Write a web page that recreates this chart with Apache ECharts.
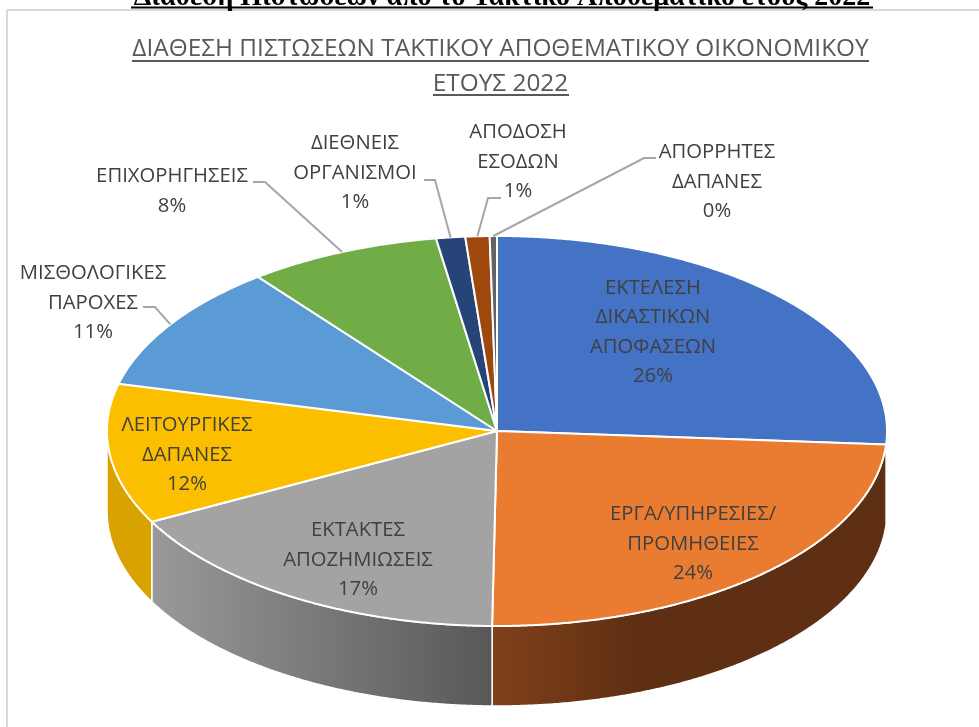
<!DOCTYPE html>
<html>
<head>
<meta charset="utf-8">
<style>
html, body { margin: 0; padding: 0; background: #fff; }
#main { width: 979px; height: 727px; }
</style>
<script src="https://cdn.jsdelivr.net/npm/echarts@6/dist/echarts.min.js"></script>
</head>
<body>
<div id="main"></div>
<script>
var heading = 'Διάθεση Πιστώσεων από το Τακτικό Αποθεματικό έτους 2022';
var chartTitle = 'ΔΙΑΘΕΣΗ ΠΙΣΤΩΣΕΩΝ ΤΑΚΤΙΚΟΥ ΑΠΟΘΕΜΑΤΙΚΟΥ ΟΙΚΟΝΟΜΙΚΟΥ\nΕΤΟΥΣ 2022';

var names = [
    'ΕΚΤΕΛΕΣΗ\nΔΙΚΑΣΤΙΚΩΝ\nΑΠΟΦΑΣΕΩΝ',
    'ΕΡΓΑ/ΥΠΗΡΕΣΙΕΣ/\nΠΡΟΜΗΘΕΙΕΣ',
    'ΕΚΤΑΚΤΕΣ\nΑΠΟΖΗΜΙΩΣΕΙΣ',
    'ΛΕΙΤΟΥΡΓΙΚΕΣ\nΔΑΠΑΝΕΣ',
    'ΜΙΣΘΟΛΟΓΙΚΕΣ\nΠΑΡΟΧΕΣ',
    'ΕΠΙΧΟΡΗΓΗΣΕΙΣ',
    'ΔΙΕΘΝΕΙΣ\nΟΡΓΑΝΙΣΜΟΙ',
    'ΑΠΟΔΟΣΗ\nΕΣΟΔΩΝ',
    'ΑΠΟΡΡΗΤΕΣ\nΔΑΠΑΝΕΣ'
];
var values = [26.1, 24.1, 17.1, 11.6, 10.6, 8.0, 1.2, 1.0, 0.3];
var colors = ['#4472c4', '#ea7c32', '#a3a3a3', '#fcbf00', '#5b9bd5', '#70ad47', '#264478', '#9e480e', '#636363'];

// πλαίσιο πίτας
var cx = 497, cy = 431, rx = 390, ry = 195, depth = 80;

// θέσεις ετικετών (κέντρο κειμένου) και αγκώνας γραμμής οδηγού
var labelPos = [[653, 332], [693, 544], [358, 560], [187, 455], [93, 303], [172, 191], [355, 173], [518, 162], [717, 182]];
var leaderPts = [null, null, null, null, [[143, 307], [155, 307]], [[253, 182], [265, 182]], [[424, 180], [435, 180]], [[501, 198], [488, 198]], [[656, 158], [644, 158]]];

var total = 0;
for (var i = 0; i < values.length; i++) total += values[i];

var starts = [];
var acc = -90;
for (var i = 0; i < values.length; i++) {
    starts.push(acc);
    acc += values[i] / total * 360;
}

function rimPoint(deg, dy) {
    var a = deg * Math.PI / 180;
    return [cx + rx * Math.cos(a), cy + ry * Math.sin(a) + (dy || 0)];
}

function arcPoints(a0, a1, dy) {
    var pts = [];
    var n = Math.max(2, Math.ceil(Math.abs(a1 - a0) * 3));
    for (var j = 0; j <= n; j++) {
        pts.push(rimPoint(a0 + (a1 - a0) * j / n, dy));
    }
    return pts;
}

function sliceEnd(idx) {
    return starts[idx] + values[idx] / total * 360;
}

var wallFills = [
    '#2f5597',
    new echarts.graphic.LinearGradient(492, 0, 640, 0, [{ offset: 0, color: '#80401a' }, { offset: 1, color: '#5e2f12' }], true),
    new echarts.graphic.LinearGradient(152, 0, 492, 0, [{ offset: 0, color: '#999999' }, { offset: 1, color: '#585858' }], true),
    '#d8a300'
];

function renderWall(params, api) {
    var idx = params.dataIndex;
    var a0 = Math.max(starts[idx], 0);
    var a1 = Math.min(sliceEnd(idx), 180);
    if (a1 <= a0 || !wallFills[idx]) return null;
    var pts = arcPoints(a0, a1, 0).concat(arcPoints(a1, a0, depth));
    return {
        type: 'polygon',
        shape: { points: pts },
        style: { fill: wallFills[idx], stroke: '#fff', lineWidth: 1.5 }
    };
}

function renderTop(params, api) {
    var idx = params.dataIndex;
    var pts = [[cx, cy]].concat(arcPoints(starts[idx], sliceEnd(idx), 0));
    return {
        type: 'polygon',
        shape: { points: pts },
        style: { fill: colors[idx], stroke: '#fff', lineWidth: 2, lineJoin: 'round' }
    };
}

function renderLabel(params, api) {
    var idx = params.dataIndex;
    var children = [];
    if (leaderPts[idx]) {
        var mid = (starts[idx] + sliceEnd(idx)) / 2;
        children.push({
            type: 'polyline',
            shape: { points: leaderPts[idx].concat([rimPoint(mid, 0)]) },
            style: { fill: null, stroke: '#a6a6a6', lineWidth: 2 }
        });
    }
    children.push({
        type: 'text',
        style: {
            x: labelPos[idx][0],
            y: labelPos[idx][1],
            text: names[idx] + '\n' + Math.round(values[idx]) + '%',
            font: '20.3px "Open Sans"',
            fill: '#404040',
            align: 'center',
            verticalAlign: 'middle',
            lineHeight: 29.5
        }
    });
    return { type: 'group', children: children };
}

var chart = echarts.init(document.getElementById('main'));
chart.setOption({
    animation: false,
    backgroundColor: '#fff',
    title: {
        text: chartTitle,
        left: 500.5,
        textAlign: 'center',
        top: 32,
        padding: 0,
        textStyle: {
            fontFamily: 'Open Sans',
            fontWeight: 'normal',
            fontSize: 24.4,
            lineHeight: 35,
            color: '#595959'
        }
    },
    graphic: [
        { type: 'line', shape: { x1: 7, y1: 10, x2: 979, y2: 10 }, style: { stroke: '#d9d9d9', lineWidth: 2 } },
        { type: 'line', shape: { x1: 7, y1: 10, x2: 7, y2: 727 }, style: { stroke: '#d9d9d9', lineWidth: 2 } },
        {
            type: 'text',
            style: { x: 502, y: 12, text: heading, font: 'bold 28px "Liberation Serif"', fill: '#000', align: 'center', verticalAlign: 'bottom' }
        },
        { type: 'line', shape: { x1: 131, y1: 7.5, x2: 873, y2: 7.5 }, style: { stroke: '#000', lineWidth: 2 } },
        { type: 'line', shape: { x1: 132, y1: 61, x2: 869, y2: 61 }, style: { stroke: '#595959', lineWidth: 2 } },
        { type: 'line', shape: { x1: 433, y1: 95, x2: 569, y2: 95 }, style: { stroke: '#595959', lineWidth: 2 } }
    ],
    series: [
        { type: 'custom', coordinateSystem: 'none', silent: true, z: 1, data: values, renderItem: renderWall },
        { type: 'custom', coordinateSystem: 'none', silent: true, z: 2, data: values, renderItem: renderTop },
        { type: 'custom', coordinateSystem: 'none', silent: true, z: 3, data: values, renderItem: renderLabel }
    ]
});
</script>
</body>
</html>
